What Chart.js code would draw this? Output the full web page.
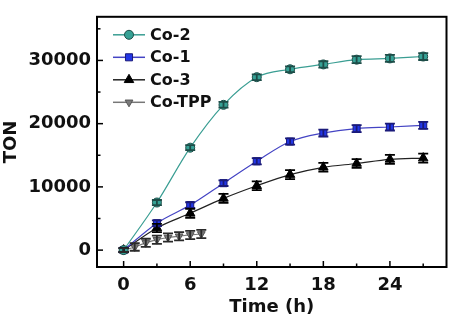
<!DOCTYPE html>
<html>
<head>
<meta charset="utf-8">
<script src="https://cdn.jsdelivr.net/npm/chart.js@4.4.1/dist/chart.umd.min.js"></script>
<style>
  html, body { margin: 0; padding: 0; background: #fff; }
  #wrap { width: 453px; height: 321px; }
</style>
</head>
<body>
<div id="wrap"><canvas id="tonChart" width="453" height="321"></canvas></div>
<script>
// data
var timeMain = [0, 3, 6, 9, 12, 15, 18, 21, 24, 27];
var timeTPP = [0, 1, 2, 3, 4, 5, 6, 7];
var co2 = [0, 7530, 16200, 22980, 27350, 28600, 29370, 30120, 30320, 30620];
var co2Err = [300, 400, 400, 450, 450, 450, 500, 550, 550, 550];
var co1 = [0, 4260, 7120, 10590, 14050, 17170, 18520, 19220, 19470, 19730];
var co1Err = [300, 450, 450, 450, 500, 500, 550, 550, 550, 550];
var co3 = [0, 3510, 5820, 8180, 10180, 11940, 13100, 13700, 14350, 14550];
var co3Err = [300, 650, 700, 700, 700, 700, 700, 700, 700, 700];
var coTPP = [0, 500, 1150, 1650, 2000, 2200, 2400, 2560];
var coTPPErr = [300, 600, 650, 650, 650, 650, 650, 650];
var labels = ["Co-2", "Co-1", "Co-3", "Co-TPP"];
// ticks: every entry gets an inward mark, labelled ones get text
var xTicks = [0, 3, 6, 9, 12, 15, 18, 21, 24, 27];
var xLabelled = [0, 6, 12, 18, 24];
var yTicks = [0, 5000, 10000, 15000, 20000, 25000, 30000, 35000];
var yLabelled = [0, 10000, 20000, 30000];

var FONT = "'DejaVu Sans', Arial, sans-serif";

function pts(xs, ys) {
    return xs.map(function (x, i) { return { x: x, y: ys[i] }; });
}

function series(label, xs, ys, err, line, fill, edge, style, radius, rot, errColor) {
    return {
        label: label,
        data: pts(xs, ys),
        err: err,
        errColor: errColor,
        borderColor: line,
        borderWidth: 1.2,
        pointStyle: style,
        pointRadius: radius,
        pointRotation: rot,
        pointBackgroundColor: fill,
        pointBorderColor: edge,
        pointBorderWidth: 1,
        cubicInterpolationMode: 'monotone',
        showLine: true,
        fill: false
    };
}

// vertical error bars with caps
var errorBars = {
    id: 'errorBars',
    afterDatasetsDraw: function (chart) {
        var ctx = chart.ctx, xs = chart.scales.x, ys = chart.scales.y;
        ctx.save();
        chart.data.datasets.forEach(function (ds) {
            ctx.strokeStyle = ds.errColor;
            ctx.lineWidth = 1.8;
            ds.data.forEach(function (p, i) {
                var px = xs.getPixelForValue(p.x);
                var top = ys.getPixelForValue(p.y + ds.err[i]);
                var bot = ys.getPixelForValue(p.y - ds.err[i]);
                ctx.beginPath();
                ctx.moveTo(px, top); ctx.lineTo(px, bot);
                ctx.moveTo(px - 5, top); ctx.lineTo(px + 5, top);
                ctx.moveTo(px - 5, bot); ctx.lineTo(px + 5, bot);
                ctx.stroke();
            });
        });
        ctx.restore();
    }
};

// frame, inward ticks and legend inside the plot
var frame = {
    id: 'frame',
    afterDraw: function (chart) {
        var ctx = chart.ctx, a = chart.chartArea;
        ctx.save();
        ctx.strokeStyle = '#000';
        ctx.lineWidth = 2;
        ctx.strokeRect(a.left, a.top, a.right - a.left, a.bottom - a.top);
        ctx.lineWidth = 1.5;
        xTicks.forEach(function (v) {
            var px = chart.scales.x.getPixelForValue(v);
            var len = xLabelled.indexOf(v) >= 0 ? 6 : 3.5;
            ctx.beginPath(); ctx.moveTo(px, a.bottom); ctx.lineTo(px, a.bottom - len); ctx.stroke();
        });
        yTicks.forEach(function (v) {
            var py = chart.scales.y.getPixelForValue(v);
            var len = yLabelled.indexOf(v) >= 0 ? 6 : 3.5;
            ctx.beginPath(); ctx.moveTo(a.left, py); ctx.lineTo(a.left + len, py); ctx.stroke();
        });

        ctx.font = 'bold 16px ' + FONT;
        ctx.textBaseline = 'middle';
        chart.data.datasets.forEach(function (ds, i) {
            var y = a.top + 18 + i * 22.5;
            var x0 = a.left + 16;
            ctx.strokeStyle = ds.borderColor;
            ctx.lineWidth = 1.5;
            ctx.beginPath(); ctx.moveTo(x0, y); ctx.lineTo(x0 + 32, y); ctx.stroke();
            ctx.fillStyle = ds.pointBackgroundColor;
            ctx.strokeStyle = ds.pointBorderColor;
            ctx.lineWidth = 1;
            Chart.helpers.drawPoint(ctx, {
                pointStyle: ds.pointStyle, radius: ds.pointRadius, rotation: ds.pointRotation,
                borderWidth: 1
            }, x0 + 16, y);
            ctx.fillStyle = '#111';
            ctx.fillText(ds.label, x0 + 37, y + 1);
        });
        ctx.restore();
    }
};

function fixedTicks(list) {
    return function (s) { s.ticks = list.map(function (v) { return { value: v }; }); };
}

var ctxT = document.getElementById("tonChart").getContext('2d');
var tonChart = new Chart(ctxT, {
    type: 'line',
    data: {
        datasets: [
            series(labels[0], timeMain, co2, co2Err, '#3a9e93', '#36a195', '#1d4d48', 'circle', 4.5, 0, '#1d4d48'),
            series(labels[1], timeMain, co1, co1Err, '#4444c4', '#2236e6', '#1a1a7a', 'rect', 5, 0, '#1a1a7a'),
            series(labels[2], timeMain, co3, co3Err, '#222222', '#000000', '#000000', 'triangle', 5.5, 0, '#000000'),
            series(labels[3], timeTPP, coTPP, coTPPErr, '#777777', '#7a7a7a', '#555555', 'triangle', 4.5, 180, '#2a2a2a')
        ]
    },
    options: {
        responsive: false,
        animation: false,
        layout: { padding: { top: 4, right: 6, left: 0, bottom: 0 } },
        plugins: { legend: { display: false }, tooltip: { enabled: false } },
        scales: {
            x: {
                type: 'linear',
                min: -2.4,
                max: 29.1,
                afterBuildTicks: fixedTicks(xTicks),
                grid: { display: false, drawTicks: false },
                border: { display: false },
                ticks: {
                    padding: 8,
                    color: '#111',
                    font: { family: FONT, size: 18, weight: 'bold' },
                    maxRotation: 0,
                    autoSkip: false,
                    callback: function (v) { return xLabelled.indexOf(v) >= 0 ? String(v) : ''; }
                },
                title: {
                    display: true,
                    text: 'Time (h)',
                    color: '#111',
                    padding: { top: 3, bottom: 3 },
                    font: { family: FONT, size: 18, weight: 'bold' }
                },
                afterFit: function (s) { s.height = 54; }
            },
            y: {
                type: 'linear',
                min: -2670,
                max: 36900,
                afterBuildTicks: fixedTicks(yTicks),
                grid: { display: false, drawTicks: false },
                border: { display: false },
                ticks: {
                    padding: 6,
                    color: '#111',
                    font: { family: FONT, size: 18, weight: 'bold' },
                    autoSkip: false,
                    callback: function (v) { return yLabelled.indexOf(v) >= 0 ? String(v) : ''; }
                },
                title: {
                    display: true,
                    text: 'TON',
                    color: '#111',
                    padding: { top: 1, bottom: 1 },
                    font: { family: FONT, size: 18, weight: 'bold' }
                },
                afterFit: function (s) { s.width = 97; }
            }
        }
    },
    plugins: [errorBars, frame]
});
</script>
</body>
</html>
